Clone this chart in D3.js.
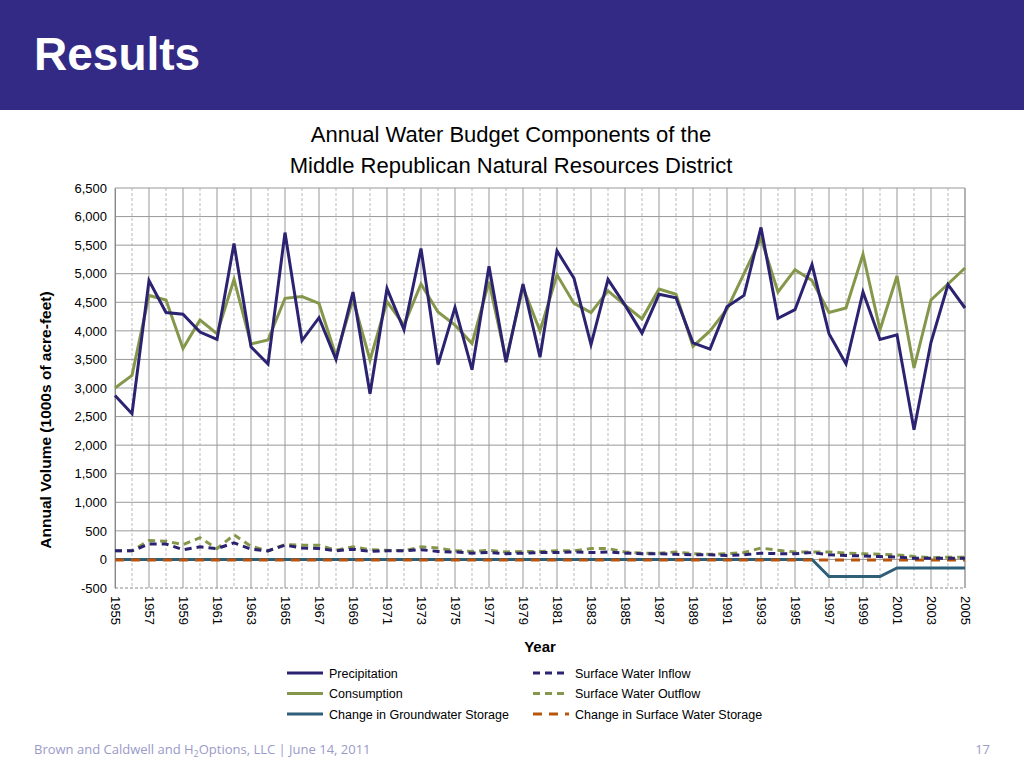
<!DOCTYPE html>
<html><head><meta charset="utf-8">
<script src="https://cdn.jsdelivr.net/npm/d3@7"></script>
<style>
body{margin:0;background:#fff;font-family:"Liberation Sans",Arial,sans-serif}
</style></head><body>
<svg id="c" width="1024" height="768"></svg>
<script>
var years = d3.range(1955, 2006)
var precipitation = [2870,2550,4880,4320,4290,3980,3850,5530,3720,3420,5720,3830,4230,3500,4680,2900,4740,4020,5440,3410,4410,3320,5130,3450,4820,3540,5400,4920,3760,4900,4450,3960,4640,4580,3790,3680,4420,4620,5810,4220,4370,5160,3950,3420,4680,3850,3930,2270,3800,4810,4400]
var consumption = [3000,3220,4620,4540,3690,4190,3950,4900,3770,3840,4570,4600,4480,3560,4550,3490,4510,4100,4820,4330,4100,3780,4860,3490,4760,4000,4980,4480,4320,4700,4450,4210,4730,4640,3730,4000,4380,5000,5620,4680,5070,4880,4320,4400,5340,4020,4960,3350,4540,4820,5100]
var swInflow = [150,150,270,270,170,220,190,290,180,150,250,200,190,150,180,140,150,150,170,140,130,110,120,100,110,120,120,130,120,130,110,100,100,90,80,80,70,80,110,100,100,120,80,70,60,50,40,20,20,20,20]
var swOutflow = [150,150,330,320,260,380,190,430,230,150,260,250,250,160,220,170,160,150,220,200,150,140,160,130,140,140,150,150,190,190,130,110,110,130,100,90,100,120,200,160,130,130,130,110,100,90,80,50,30,40,40]
var gwChange = [0,0,0,0,0,0,0,0,0,0,0,0,0,0,0,0,0,0,0,0,0,0,0,0,0,0,0,0,0,0,0,0,0,0,0,0,0,0,0,0,0,0,-300,-300,-300,-300,-150,-150,-150,-150,-150]
var swStorage = [-10,-10,-10,-10,-10,-10,-10,-10,-10,-10,-10,-10,-10,-10,-10,-10,-10,-10,-10,-10,-10,-10,-10,-10,-10,-10,-10,-10,-10,-10,-10,-10,-10,-10,-10,-10,-10,-10,-10,-10,-10,-10,-10,-10,-10,-10,-10,-10,-10,-10,-10]
var yTicks = d3.range(-500, 6501, 500)

var series = [
  {name: 'Precipitation', values: precipitation, color: '#2b2372', dash: null, col: 0, row: 0, z: 5},
  {name: 'Surface Water Inflow', values: swInflow, color: '#2b2372', dash: '7,5', col: 1, row: 0, z: 3},
  {name: 'Consumption', values: consumption, color: '#85974a', dash: null, col: 0, row: 1, z: 4},
  {name: 'Surface Water Outflow', values: swOutflow, color: '#85974a', dash: '7,5', col: 1, row: 1, z: 2},
  {name: 'Change in Groundwater Storage', values: gwChange, color: '#2e5e78', dash: null, col: 0, row: 2, z: 0},
  {name: 'Change in Surface Water Storage', values: swStorage, color: '#b8560f', dash: '9,7', col: 1, row: 2, z: 1}
]

var svg = d3.select('#c')
svg.append('rect').attr('width', 1024).attr('height', 110).attr('fill', '#332a86')
svg.append('text').attr('x', 34).attr('y', 70).attr('fill', '#fff')
  .attr('font-size', 46).attr('font-weight', 'bold').text('Results')

var x = d3.scaleLinear().domain([1955, 2005]).range([115, 965])
var y = d3.scaleLinear().domain([-500, 6500]).range([588, 188])

// grid
var g = svg.append('g')
g.selectAll('.vminor').data(years.filter(d => d % 2 === 0)).enter().append('line')
  .attr('x1', x).attr('x2', x).attr('y1', 188).attr('y2', 588)
  .attr('stroke', '#aaa').attr('stroke-dasharray', '3,2').attr('stroke-width', 0.8)
g.selectAll('.vmajor').data(years.filter(d => d % 2 === 1)).enter().append('line')
  .attr('x1', x).attr('x2', x).attr('y1', 188).attr('y2', 588)
  .attr('stroke', '#999').attr('stroke-width', 1)
g.selectAll('.h').data(yTicks.filter(d => d > -500)).enter().append('line')
  .attr('x1', 115).attr('x2', 965).attr('y1', y).attr('y2', y)
  .attr('stroke', '#999').attr('stroke-width', 1)
g.append('line').attr('x1', 115).attr('x2', 965).attr('y1', 588).attr('y2', 588)
  .attr('stroke', '#888').attr('stroke-dasharray', '3,2')
g.append('line').attr('x1', 965).attr('x2', 965).attr('y1', 188).attr('y2', 588).attr('stroke', '#999')

var yAxis = svg.append('g').attr('transform', 'translate(115,0)')
  .call(d3.axisLeft(y).tickValues(yTicks).tickSize(0).tickPadding(8).tickFormat(d => d3.format(',')(d).replace('−', '-')))
yAxis.select('.domain').attr('stroke', '#888')
yAxis.selectAll('text').attr('font-size', 13).attr('font-family', 'Liberation Sans, Arial').attr('fill', '#000')

var xAxis = svg.append('g').attr('transform', 'translate(0,588)')
  .call(d3.axisBottom(x).tickValues(years.filter(d => d % 2 === 1)).tickSize(0).tickFormat(d3.format('d')))
xAxis.select('.domain').remove()
xAxis.selectAll('text').attr('font-size', 13).attr('font-family', 'Liberation Sans, Arial').attr('fill', '#000')
  .attr('transform', 'rotate(90)').attr('text-anchor', 'start').attr('x', 8).attr('y', 0).attr('dy', '0.35em')

var line = d3.line().x((d, i) => x(years[i])).y(d => y(d))
series.slice().sort((a, b) => a.z - b.z).forEach(function (s) {
  svg.append('path').datum(s.values).attr('d', line).attr('fill', 'none')
    .attr('stroke', s.color).attr('stroke-width', 3)
    .attr('stroke-dasharray', s.dash)
})

svg.append('text').attr('x', 511).attr('y', 142).attr('text-anchor', 'middle')
  .attr('font-size', 22).text('Annual Water Budget Components of the')
svg.append('text').attr('x', 511).attr('y', 173).attr('text-anchor', 'middle')
  .attr('font-size', 22).text('Middle Republican Natural Resources District')
svg.append('text').attr('x', 540).attr('y', 652).attr('text-anchor', 'middle')
  .attr('font-size', 15).attr('font-weight', 'bold').text('Year')
svg.append('text').attr('transform', 'translate(51,420) rotate(-90)').attr('text-anchor', 'middle')
  .attr('font-size', 15.5).attr('font-weight', 'bold').text('Annual Volume (1000s of acre-feet)')

var leg = svg.append('g')
series.forEach(function (s) {
  var lx = s.col === 0 ? 287 : 533
  var ly = 673 + s.row * 20.5
  leg.append('line').attr('x1', lx).attr('x2', lx + 36).attr('y1', ly).attr('y2', ly)
    .attr('stroke', s.color).attr('stroke-width', 3).attr('stroke-dasharray', s.dash)
  leg.append('text').attr('x', lx + 42).attr('y', ly + 4.5).attr('font-size', 12.5).text(s.name)
})

var ft = svg.append('text').attr('x', 34).attr('y', 754).attr('font-size', 13).attr('fill', '#9a9ac8')
  .attr('font-family', 'Open Sans, Liberation Sans')
ft.append('tspan').text('Brown and Caldwell  and H')
ft.append('tspan').attr('font-size', 9).attr('dy', 3).text('2')
ft.append('tspan').attr('dy', -3).text('Options, LLC | June 14, 2011')
svg.append('text').attr('x', 990).attr('y', 754).attr('text-anchor', 'end').attr('font-size', 13)
  .attr('fill', '#9a9ac8').attr('font-family', 'Open Sans, Liberation Sans').text('17')
</script></body></html>
